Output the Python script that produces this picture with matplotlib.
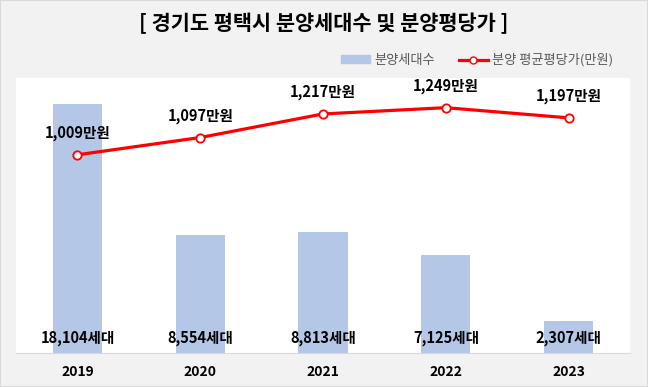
import matplotlib

matplotlib.use("Agg")
import matplotlib.pyplot as plt
from matplotlib.patches import Rectangle
from matplotlib.lines import Line2D

plt.rcParams["font.family"] = ["Noto Sans CJK KR", "DejaVu Sans"]

years = ["2019", "2020", "2021", "2022", "2023"]
units = [18104, 8554, 8813, 7125, 2307]
price = [1009, 1097, 1217, 1249, 1197]

BAR, RED, GRAY = "#b4c7e7", "#ff0000", "#595959"

fig = plt.figure(figsize=(6.48, 3.87), dpi=100, facecolor="#f2f2f2")
fig.patches.append(Rectangle((0, 0), 1, 1, transform=fig.transFigure,
                             fill=False, edgecolor="#d9d9d9", linewidth=1.5))

ax = fig.add_axes([16 / 648, 34 / 387, 614 / 648, 275 / 387])
ax.set_facecolor("white")
x = range(len(years))
ax.bar(x, units, width=0.4, color=BAR, zorder=2)
ax.set_ylim(0, 20000)
ax.set_xlim(-0.5, len(years) - 0.5)
ax.set_yticks([])
ax.set_xticks(list(x))
ax.set_xticklabels(years, fontsize=10, fontweight="bold")
ax.tick_params(axis="x", length=0, pad=9)
for s in ["top", "left", "right"]:
    ax.spines[s].set_visible(False)
ax.spines["bottom"].set_color("#d9d9d9")
for i, u in enumerate(units):
    ax.text(i, 1100, f"{u:,}세대", ha="center", va="center",
            fontsize=10.5, fontweight="bold", zorder=4)

ax2 = ax.twinx()
ax2.set_ylim(0, 1400)
ax2.plot(x, price, color=RED, linewidth=2.3, marker="o", markersize=6,
         markerfacecolor="white", markeredgecolor=RED, markeredgewidth=1.3, zorder=3)
ax2.set_yticks([])
for s in ax2.spines.values():
    s.set_visible(False)
for i, p in enumerate(price):
    ax2.text(i, p + 70, f"{p:,}만원", ha="center", va="bottom",
             fontsize=10.5, fontweight="bold")

fig.text(0.5, 1 - 23 / 387, "[ 경기도 평택시 분양세대수 및 분양평당가 ]",
         ha="center", va="center", fontsize=15, fontweight="bold")

handles = [Rectangle((0, 0), 1, 1, color=BAR),
           Line2D([], [], color=RED, linewidth=2.3, marker="o", markersize=5,
                  markerfacecolor="white", markeredgecolor=RED)]
leg = fig.legend(handles, ["분양세대수", "분양 평균평당가(만원)"], loc="center",
                 bbox_to_anchor=(477 / 648, 1 - 60 / 387), ncol=2, frameon=False,
                 fontsize=9.5, handlelength=2.2, handleheight=0.5,
                 columnspacing=1.8, handletextpad=0.3)
for t in leg.get_texts():
    t.set_color(GRAY)

fig.savefig("out.png", dpi=100, facecolor=fig.get_facecolor())
